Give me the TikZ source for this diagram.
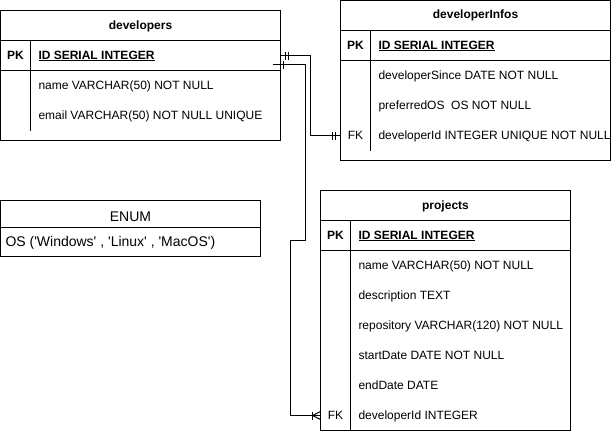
\documentclass[tikz,border=0pt]{standalone}
\usepackage{fontspec}
\setmainfont{Liberation Sans}
\begin{document}
\begin{tikzpicture}[x=1pt,y=-1pt,
  every node/.style={inner sep=0pt, outer sep=0pt},
  tbl/.style={draw, line width=1pt, anchor=north west},
  fld/.style={anchor=west, font=\fontsize{12}{14}\selectfont, text height=7pt, text depth=0pt},
  fldb/.style={fld, font=\fontsize{12}{14}\selectfont\bfseries},
  keylbl/.style={fld, anchor=center},
  keylblb/.style={fldb, anchor=center},
  ttl/.style={anchor=center, font=\fontsize{12}{14}\selectfont\bfseries, text height=7pt, text depth=0pt},
  enumttl/.style={anchor=center, font=\fontsize{14}{16}\selectfont, text height=9pt, text depth=0pt},
  enumfld/.style={anchor=west, font=\fontsize{14}{16}\selectfont, text height=9pt, text depth=0pt},
  sepline/.style={line width=1pt},
  conn/.style={line width=1pt, line join=miter},
  tick/.style={line width=1pt},
]
\useasboundingbox (0,0) rectangle (611,431);

% ---------------- developers
\node[tbl, minimum width=280pt, minimum height=130pt] (dev) at (0.5,10.5) {};
\node[ttl] (devT) at ([yshift=-15pt]dev.north) {developers};
\draw[sepline] ([yshift=-30pt]dev.north west) -- ([yshift=-30pt]dev.north east);
\draw[sepline] ([yshift=-60pt]dev.north west) -- ([yshift=-60pt]dev.north east);
\draw[sepline] ([xshift=30pt,yshift=-30pt]dev.north west) -- ([xshift=30pt,yshift=-120pt]dev.north west);
\node[keylblb] (devPK) at ([xshift=15pt,yshift=-45pt]dev.north west) {PK};
\node[fldb] (devId) at ([xshift=38pt,yshift=-45pt]dev.north west) {ID SERIAL INTEGER};
\draw[line width=1pt] ([yshift=-1.5pt]devId.south west) -- ([yshift=-1.5pt]devId.south east);
\node[fld] (devName) at ([xshift=38pt,yshift=-75pt]dev.north west) {name VARCHAR(50) NOT NULL};
\node[fld] (devEmail) at ([xshift=38pt,yshift=-105pt]dev.north west) {email VARCHAR(50) NOT NULL UNIQUE};

% ---------------- developerInfos
\node[tbl, minimum width=270pt, minimum height=160pt] (info) at (340.5,0.5) {};
\node[ttl] (infoT) at ([yshift=-15pt]info.north) {developerInfos};
\draw[sepline] ([yshift=-30pt]info.north west) -- ([yshift=-30pt]info.north east);
\draw[sepline] ([yshift=-60pt]info.north west) -- ([yshift=-60pt]info.north east);
\draw[sepline] ([xshift=30pt,yshift=-30pt]info.north west) -- ([xshift=30pt,yshift=-150pt]info.north west);
\node[keylblb] (infoPK) at ([xshift=15pt,yshift=-45pt]info.north west) {PK};
\node[fldb] (infoId) at ([xshift=38pt,yshift=-45pt]info.north west) {ID SERIAL INTEGER};
\draw[line width=1pt] ([yshift=-1.5pt]infoId.south west) -- ([yshift=-1.5pt]infoId.south east);
\node[fld] (infoSince) at ([xshift=38pt,yshift=-75pt]info.north west) {developerSince DATE NOT NULL};
\node[fld] (infoOS) at ([xshift=38pt,yshift=-105pt]info.north west) {preferredOS\ \ OS NOT NULL};
\node[keylbl] (infoFK) at ([xshift=15pt,yshift=-135pt]info.north west) {FK};
\node[fld] (infoDev) at ([xshift=38pt,yshift=-135pt]info.north west) {developerId INTEGER UNIQUE NOT NULL};

% ---------------- ENUM
\node[tbl, minimum width=260pt, minimum height=56pt] (enum) at (0.5,200.5) {};
\node[enumttl] (enumT) at ([yshift=-16pt]enum.north) {ENUM};
\draw[sepline] ([yshift=-27pt]enum.north west) -- ([yshift=-27pt]enum.north east);
\node[enumfld] (enumOS) at ([xshift=5pt,yshift=-41pt]enum.north west) {OS (\textquotesingle Windows\textquotesingle\ , \textquotesingle Linux\textquotesingle\ , \textquotesingle MacOS\textquotesingle)};

% ---------------- projects
\node[tbl, minimum width=250pt, minimum height=240pt] (proj) at (320.5,190.5) {};
\node[ttl] (projT) at ([yshift=-15pt]proj.north) {projects};
\draw[sepline] ([yshift=-30pt]proj.north west) -- ([yshift=-30pt]proj.north east);
\draw[sepline] ([yshift=-60pt]proj.north west) -- ([yshift=-60pt]proj.north east);
\draw[sepline] ([xshift=30pt,yshift=-30pt]proj.north west) -- ([xshift=30pt,yshift=-240pt]proj.north west);
\node[keylblb] (projPK) at ([xshift=15pt,yshift=-45pt]proj.north west) {PK};
\node[fldb] (projId) at ([xshift=38pt,yshift=-45pt]proj.north west) {ID SERIAL INTEGER};
\draw[line width=1pt] ([yshift=-1.5pt]projId.south west) -- ([yshift=-1.5pt]projId.south east);
\node[fld] (projName) at ([xshift=38pt,yshift=-75pt]proj.north west) {name VARCHAR(50) NOT NULL};
\node[fld] (projDesc) at ([xshift=38pt,yshift=-105pt]proj.north west) {description TEXT};
\node[fld] (projRepo) at ([xshift=38pt,yshift=-135pt]proj.north west) {repository VARCHAR(120) NOT NULL};
\node[fld] (projStart) at ([xshift=38pt,yshift=-165pt]proj.north west) {startDate DATE NOT NULL};
\node[fld] (projEnd) at ([xshift=38pt,yshift=-195pt]proj.north west) {endDate DATE};
\node[keylbl] (projFK) at ([xshift=15pt,yshift=-225pt]proj.north west) {FK};
\node[fld] (projDev) at ([xshift=38pt,yshift=-225pt]proj.north west) {developerId INTEGER};

% ---------------- connectors
% developers (1) -- (1) developerInfos
\coordinate (c1s) at ([yshift=-45pt]dev.north east);
\coordinate (c1e) at (info.west |- infoFK);
\draw[conn] (c1s) -- ++(30,0) |- (c1e);
\draw[tick] ([xshift=5pt,yshift=4pt]c1s) -- ([xshift=5pt,yshift=-4pt]c1s);
\draw[tick] ([xshift=8pt,yshift=4pt]c1s) -- ([xshift=8pt,yshift=-4pt]c1s);
\draw[tick] ([xshift=-5pt,yshift=4pt]c1e) -- ([xshift=-5pt,yshift=-4pt]c1e);
\draw[tick] ([xshift=-8pt,yshift=4pt]c1e) -- ([xshift=-8pt,yshift=-4pt]c1e);

% developers (1) -- (n) projects
\coordinate (c2s) at ([xshift=-7.5pt,yshift=-54pt]dev.north east);
\coordinate (c2e) at (proj.west |- projFK);
\draw[conn] (c2s) -- ++(32.5,0) -- ++(0,176) -- ++(-15,0) |- (c2e);
\draw[tick] ([xshift=7pt,yshift=4pt]c2s) -- ([xshift=7pt,yshift=-4pt]c2s);
\draw[tick] ([xshift=10pt,yshift=4pt]c2s) -- ([xshift=10pt,yshift=-4pt]c2s);
\draw[tick] ([xshift=-8pt,yshift=4pt]c2e) -- ([xshift=-8pt,yshift=-4pt]c2e);
\draw[tick] ([yshift=4pt]c2e) -- ([xshift=-8pt]c2e) -- ([yshift=-4pt]c2e);
\end{tikzpicture}
\end{document}
